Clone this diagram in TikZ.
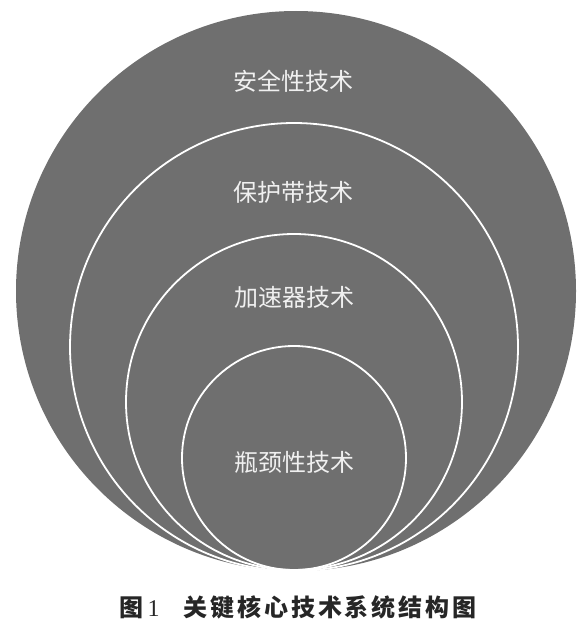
\documentclass[tikz,border=0pt]{standalone}
\usepackage{fontspec}
\setmainfont{Liberation Serif}
\newfontfamily\cjk{Noto Sans CJK SC}
\usepackage{tikz}
\usetikzlibrary{positioning}
\usepackage{xcolor}
\definecolor{discgray}{RGB}{111,111,111}

\begin{document}
\begin{tikzpicture}[x=1pt, y=-1pt,
    ring/.style={circle, draw=white, line width=1.8pt, inner sep=0pt},
    lbl/.style={font=\cjk\fontsize{24}{24}\selectfont, text=white!94!black, inner sep=0pt},
    captiontxt/.style={font=\cjk\bfseries\fontsize{24}{24}\selectfont\addfontfeature{LetterSpace=12},
                text=black!85, inner sep=0pt},
]
\useasboundingbox (0,0) rectangle (586,626);

% ===== Outer disc =====
\node[circle, fill=discgray, inner sep=0pt, minimum size=560pt] at (296,291) (safety) {};

% ===== Inner rings, touching at the bottom =====
\node[ring, minimum size=448pt] at (294,347) (band) {};
\node[ring, minimum size=336pt] at (294,402) (accel) {};
\node[ring, minimum size=224pt] at (294,458) (neck) {};

% ===== Labels =====
\node[lbl] at (293,81) (safetytxt) {安全性技术};
\node[lbl] at (293,192) (bandtxt) {保护带技术};
\node[lbl] at (294,297) (acceltxt) {加速器技术};
\node[lbl] at (294,462) (necktxt) {瓶颈性技术};

% ===== Caption =====
\node[captiontxt] at (298,607) (caption) {图{\rmfamily\mdseries\,1}\hspace{24pt}关键核心技术系统结构图};

\end{tikzpicture}
\end{document}
